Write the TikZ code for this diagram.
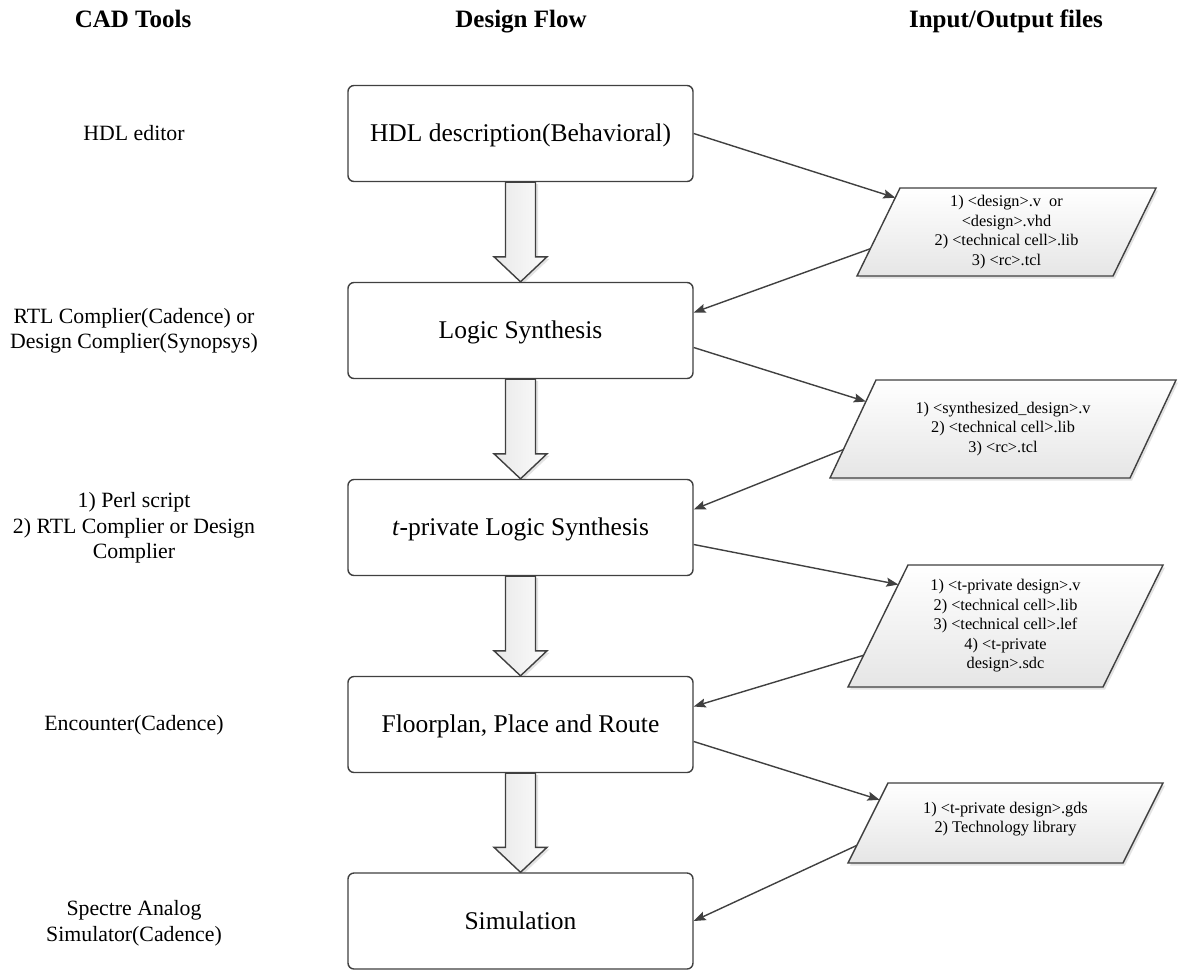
\documentclass[tikz,border=0pt]{standalone}
\usepackage{fontspec}
\setmainfont{Liberation Serif}
\usetikzlibrary{arrows.meta,calc,shadows,backgrounds}
\definecolor{edge}{HTML}{404040}

% parallelogram holding a list of files: [text options] name, top y, bottom y,
% top-left x, bottom-left x, side length, text
\newcommand{\iobox}[8][]{%
  \coordinate (#2-tl) at (#5,#3);
  \coordinate (#2-bl) at (#6,#4);
  \coordinate (#2-tr) at ($(#2-tl)+(#7,0)$);
  \coordinate (#2-br) at ($(#2-bl)+(#7,0)$);
  \path[iofill] (#2-tl) -- (#2-tr) -- (#2-br) -- (#2-bl) -- cycle;
  \node[files,#1] (#2) at ($(#2-tl)!0.5!(#2-br)$) {#8};}

% hollow block arrow from one stage to the next
\newcommand{\flowstep}[2]{%
  \path[bigarrow] ($(#1.south)+(-15,0)$) -- ($(#2.north)+(-15,-25)$)
    -- ($(#2.north)+(-26.5,-25)$) -- (#2.north)
    -- ($(#2.north)+(26.5,-25)$) -- ($(#2.north)+(15,-25)$)
    -- ($(#1.south)+(15,0)$) -- cycle;}

\begin{document}
\begin{tikzpicture}[x=1pt,y=-1pt,
  stage/.style={draw=edge, line width=1.4pt, rounded corners=6pt, fill=white,
    minimum width=345pt, minimum height=96pt, inner sep=0pt,
    font=\fontsize{25.5}{30}\selectfont, text height=16.9pt, text depth=0pt},
  tool/.style={align=center, font=\fontsize{21.8}{25.5}\selectfont},
  head/.style={anchor=base, font=\bfseries\fontsize{25}{30}\selectfont},
  files/.style={align=center, font=\fontsize{16.3}{19.5}\selectfont},
  iofill/.style={draw=edge, line width=1.4pt, top color=white, bottom color=gray!20,
    drop shadow={shadow xshift=2pt, shadow yshift=-2.5pt, opacity=0.22}},
  bigarrow/.style={draw=edge, line width=1.4pt, left color=gray!18, right color=gray!3,
    drop shadow={shadow xshift=2.5pt, shadow yshift=-2pt, opacity=0.22}},
  link/.style={draw=edge, line width=1.4pt, -{Stealth[length=12pt,width=9pt,inset=2pt]}},
]
\useasboundingbox (0,0) rectangle (1178,970);

% column headings
\node[head] (h1) at (133,27) {CAD Tools};
\node[head] (h2) at (521,27) {Design Flow};
\node[head] (h3) at (1006,27) {Input/Output files};

% tools used at each stage
\node[tool] (t1) at (134,133) {HDL editor};
\node[tool] (t2) at (134,331) {RTL Complier(Cadence) or\\Design Complier(Synopsys)};
\node[tool] (t3) at (134,528) {1) Perl script\\2) RTL Complier or Design\\Complier};
\node[tool] (t4) at (134,725) {Encounter(Cadence)};
\node[tool] (t5) at (134,923) {Spectre Analog\\Simulator(Cadence)};

% design flow stages
\node[stage] (b1) at (520.5,133.5) {HDL description(Behavioral)};
\node[stage] (b2) at (520.5,330.5) {Logic Synthesis};
\node[stage] (b3) at (520.5,527.5) {\textit{t}-private Logic Synthesis};
\node[stage] (b4) at (520.5,724.5) {Floorplan, Place and Route};
\node[stage] (b5) at (520.5,921) {Simulation};

\begin{pgfonlayer}{background}
  \fill[white] (0,0) rectangle (1178,970);
  \flowstep{b1}{b2}
  \flowstep{b2}{b3}
  \flowstep{b3}{b4}
  \flowstep{b4}{b5}
\end{pgfonlayer}

% input/output files
\iobox{f1}{188}{276}{900}{857}{256}{1) <design>.v~~or\\<design>.vhd\\2) <technical cell>.lib\\3) <rc>.tcl}
\iobox{f2}{380}{478}{876}{830}{300}{1) <synthesized\_design>.v\\2) <technical cell>.lib\\3) <rc>.tcl}
\iobox{f3}{565}{687}{908}{848}{255}{1) <t-private design>.v\\2) <technical cell>.lib\\3) <technical cell>.lef\\4) <t-private\\design>.sdc}
\iobox[yshift=4pt]{f4}{783}{863}{888}{848}{275}{1) <t-private design>.gds\\2) Technology library}

% file connections
\draw[link] (b1.east) -- ($(f1-tl)!0.11!(f1-bl)$);
\draw[link] ($(f1-tl)!0.69!(f1-bl)$) -- ($(b2.east)+(0,-18)$);
\draw[link] ($(b2.east)+(0,17)$) -- ($(f2-tl)!0.22!(f2-bl)$);
\draw[link] ($(f2-tl)!0.71!(f2-bl)$) -- ($(b3.east)+(0,-18)$);
\draw[link] ($(b3.east)+(0,17)$) -- ($(f3-tl)!0.16!(f3-bl)$);
\draw[link] ($(f3-tl)!0.74!(f3-bl)$) -- ($(b4.east)+(0,-18)$);
\draw[link] ($(b4.east)+(0,17)$) -- ($(f4-tl)!0.21!(f4-bl)$);
\draw[link] ($(f4-tl)!0.78!(f4-bl)$) -- (b5.east);
\end{tikzpicture}
\end{document}
